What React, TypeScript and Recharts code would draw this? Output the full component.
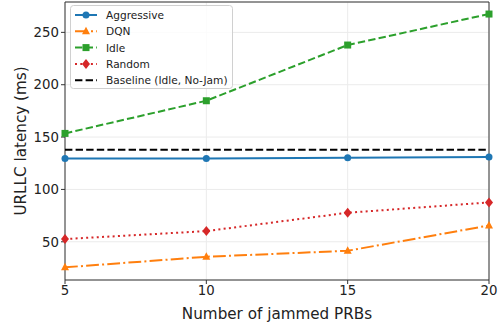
import {
  LineChart,
  Line,
  XAxis,
  YAxis,
  CartesianGrid,
  ReferenceLine,
  ReferenceArea,
} from "recharts";

const prbs = [5, 10, 15, 20];
const aggressive = [129.5, 129.6, 130.3, 130.9];
const dqn = [25.6, 35.7, 41.4, 65.6];
const idle = [153.5, 184.7, 237.9, 267.5];
const random = [52.6, 60.2, 77.7, 87.6];
const baseline = 138;
const yTicks = [50, 100, 150, 200, 250];

const data = prbs.map((p, i) => ({
  prb: p,
  aggressive: aggressive[i],
  dqn: dqn[i],
  idle: idle[i],
  random: random[i],
}));

const FONT = "DejaVu Sans, sans-serif";

const series = [
  { key: "aggressive", name: "Aggressive", color: "#1f77b4", dash: undefined, marker: "circle" },
  { key: "dqn", name: "DQN", color: "#ff7f0e", dash: "12.8 3.2 2 3.2", marker: "triangle" },
  { key: "idle", name: "Idle", color: "#2ca02c", dash: "7.4 3.2", marker: "square" },
  { key: "random", name: "Random", color: "#d62728", dash: "2 3.3", marker: "diamond" },
];

function Marker({ cx, cy, type, color }: { cx: number; cy: number; type: string; color: string }) {
  if (cx == null || cy == null) return null;
  if (type === "circle") return <circle cx={cx} cy={cy} r={3.5} fill={color} />;
  if (type === "square") return <rect x={cx - 3.5} y={cy - 3.5} width={7} height={7} fill={color} />;
  if (type === "triangle")
    return <polygon points={`${cx},${cy - 4.5} ${cx - 4},${cy + 3} ${cx + 4},${cy + 3}`} fill={color} />;
  return <polygon points={`${cx},${cy - 5} ${cx + 4},${cy} ${cx},${cy + 5} ${cx - 4},${cy}`} fill={color} />;
}

// legend drawn on top of the plot, like matplotlib's upper-left box
function LegendBox() {
  const rows = [
    ...series.map((s) => ({ name: s.name, color: s.color, dash: s.dash, marker: s.marker })),
    { name: "Baseline (Idle, No-Jam)", color: "#000", dash: "7.4 3.2", marker: "" },
  ];
  return (
    <svg width={164} height={85} style={{ position: "absolute", left: 70, top: 5 }}>
      <rect x={0.5} y={0.5} width={162} height={83} rx={3} fill="#fff" fillOpacity={0.8} stroke="#d0d0d0" />
      {rows.map((r, i) => {
        const y = 10 + i * 16.3;
        return (
          <g key={r.name}>
            <line x1={5} x2={27} y1={y} y2={y} stroke={r.color} strokeWidth={2} strokeDasharray={r.dash} />
            {r.marker && <Marker cx={16} cy={y} type={r.marker} color={r.color} />}
            <text x={36} y={y + 4} fontSize={10.6} fontFamily={FONT} fill="#222">
              {r.name}
            </text>
          </g>
        );
      })}
    </svg>
  );
}

export default function App() {
  return (
    <div style={{ position: "absolute", left: 0, top: 0, width: 503, height: 324, background: "#fff" }}>
      <LineChart width={503} height={324} data={data} margin={{ top: 2, right: 14, bottom: 0, left: 0 }}>
        <CartesianGrid stroke="#ebebeb" strokeWidth={1} verticalValues={prbs} />
        <XAxis
          dataKey="prb"
          type="number"
          domain={[5, 20]}
          ticks={prbs}
          height={44}
          tick={{ fontSize: 13.3, fill: "#222", fontFamily: FONT }}
          tickLine={{ stroke: "#333" }}
          axisLine={false}
          tickSize={4}
          label={{ value: "Number of jammed PRBs", position: "insideBottom", offset: 5, style: { fontSize: 15.2, fill: "#222", fontFamily: FONT } }}
        />
        <YAxis
          type="number"
          domain={[13.5, 279]}
          ticks={yTicks}
          width={65}
          allowDataOverflow
          tick={{ fontSize: 13.3, fill: "#222", fontFamily: FONT }}
          tickLine={{ stroke: "#333" }}
          axisLine={false}
          tickSize={4}
          label={{ value: "URLLC latency (ms)", angle: -90, position: "insideLeft", offset: 21, style: { fontSize: 15.2, fill: "#222", fontFamily: FONT, textAnchor: "middle" } }}
        />
        <ReferenceArea x1={5} x2={20} y1={13.5} y2={279} fill="none" stroke="#333" strokeWidth={1} ifOverflow="visible" />
        <ReferenceLine y={baseline} stroke="#000" strokeWidth={2} strokeDasharray="7.4 3.2" />
        {series.map((s) => (
          <Line
            key={s.key}
            dataKey={s.key}
            name={s.name}
            stroke={s.color}
            strokeWidth={2}
            strokeDasharray={s.dash}
            isAnimationActive={false}
            dot={(p: any) => <Marker key={`${s.key}-${p.index}`} cx={p.cx} cy={p.cy} type={s.marker} color={s.color} />}
            activeDot={false}
          />
        ))}
      </LineChart>
      <LegendBox />
    </div>
  );
}
